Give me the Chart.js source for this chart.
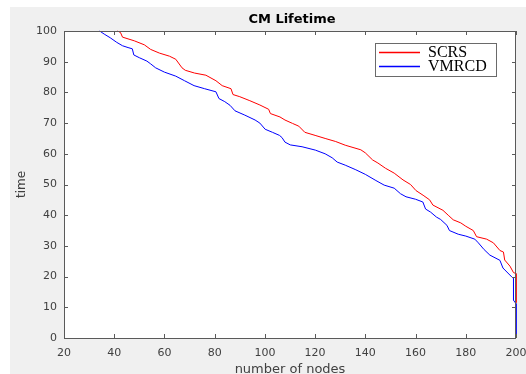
<!DOCTYPE html>
<html><head><meta charset="utf-8">
<script src="https://cdn.jsdelivr.net/npm/chart.js@4/dist/chart.umd.min.js"></script>
<style>html,body{margin:0;padding:0;background:#fff;}canvas{display:block;}</style>
</head><body>
<canvas id="c" width="526" height="374"></canvas>
<script>
const chartTitle = 'CM Lifetime';
const xTitle = 'number of nodes';
const yTitle = 'time';
const seriesNames = ['SCRS', 'VMRCD'];
const seriesColors = ['#ff0000', '#0000ff'];
const xTicks = [20, 40, 60, 80, 100, 120, 140, 160, 180, 200];
const yTicks = [0, 10, 20, 30, 40, 50, 60, 70, 80, 90, 100];

const scrsX = [41.3,42.5,43.3,48,52,54.5,58,62,64.5,67,68.3,72,76.5,80.5,83,86.5,87.3,90,94,98,101.5,102.2,106,108,111,113.5,115.9,120,124,128.2,132,138.2,140,142.9,145,148,151.5,155,158,160.2,163,165.6,166.9,170.9,173,175,178,180,183,184.3,188.3,191,193.6,195,195.5,197.6,199,200,200];
const scrsY = [100,99.5,98,96.8,95.5,94,92.8,91.8,90.8,88,87.2,86.3,85.6,83.8,82.2,81.2,79.3,78.6,77.3,75.9,74.5,73.1,72,71,69.9,69,67,66,65,64,62.8,61.3,60.3,58,57,55.3,53.7,51.5,50,48,46.5,45,43.3,41.6,40,38.5,37.5,36.4,35,33,32.2,31,28.5,28,25.4,23.4,21.3,21,11.5];

const vmrcdX = [34.2,36,38.4,41,43.3,45.5,47.2,47.8,50,53,54.5,56.5,60,64.5,68,71.8,76,80.5,81.7,84,86.1,88.1,92,96.1,98,100.1,103,105.8,106.8,108,110.1,114.8,120.1,124,126.8,128.8,132,136.2,140,144.2,147.5,151.5,154,156.2,160,162.9,164,166,168.3,170,172.5,173.5,177,180,183.6,185,187.3,189.6,193.6,194.8,198.3,199,199,200,200];
const vmrcdY = [100,99,97.8,96.3,95.2,94.6,94.2,92.2,91.3,90.2,89.3,88,86.6,85.3,83.8,82.2,81.2,80.2,78,77,75.8,74,72.6,71,70,68,67,66,65.3,63.8,62.9,62.3,61.2,60,58.7,57.3,56.3,54.8,53.3,51.3,49.8,48.8,47,46,45.2,44.3,42,41,39.4,38.6,36.7,35,33.8,33.2,32.2,31,28.8,27,25.3,22.8,19.9,19.4,12.3,11.2,0];

const toPts = (xs, ys) => xs.map((x, i) => ({x: x, y: ys[i]}));

const TICK_FONT = {family: 'DejaVu Sans', size: 11};
const TEXT_COLOR = '#404040';
const FRAME_COLOR = '#5a5a5a';

const decor = {
  id: 'decor',
  beforeDraw(chart) {
    const {ctx, chartArea: a} = chart;
    ctx.save();
    ctx.fillStyle = '#ffffff';
    ctx.fillRect(0, 0, chart.width, chart.height);
    ctx.fillStyle = '#f0f0f0';
    ctx.fillRect(10, 7, chart.width - 10, chart.height - 7);
    ctx.fillStyle = '#ffffff';
    ctx.fillRect(a.left, a.top, a.right - a.left, a.bottom - a.top);
    ctx.restore();
  },
  afterDraw(chart) {
    const {ctx, chartArea: a, scales} = chart;
    ctx.save();
    ctx.strokeStyle = FRAME_COLOR;
    ctx.lineWidth = 1;
    ctx.strokeRect(a.left + 0.5, a.top + 0.5, a.right - a.left - 1, a.bottom - a.top);
    const tl = 4;
    ctx.beginPath();
    scales.x.ticks.forEach(t => {
      const px = Math.round(scales.x.getPixelForValue(t.value)) + 0.5;
      ctx.moveTo(px, a.bottom); ctx.lineTo(px, a.bottom - tl);
      ctx.moveTo(px, a.top); ctx.lineTo(px, a.top + tl);
    });
    scales.y.ticks.forEach(t => {
      const py = Math.round(scales.y.getPixelForValue(t.value)) + 0.5;
      ctx.moveTo(a.left, py); ctx.lineTo(a.left + tl, py);
      ctx.moveTo(a.right, py); ctx.lineTo(a.right - tl, py);
    });
    ctx.stroke();
    ctx.fillStyle = '#000';
    ctx.font = 'bold 13px "DejaVu Sans"';
    ctx.textAlign = 'center';
    ctx.textBaseline = 'middle';
    ctx.fillText(chartTitle, (a.left + a.right) / 2 + 2, 20);
    const lx = 375, ly = 43, lw = 121, lh = 33;
    ctx.fillStyle = '#fff';
    ctx.fillRect(lx, ly, lw, lh);
    ctx.strokeStyle = '#6a6a6a';
    ctx.strokeRect(lx + 0.5, ly + 0.5, lw, lh);
    ctx.font = '16px "Liberation Serif"';
    ctx.textAlign = 'left';
    chart.data.datasets.forEach((ds, i) => {
      const y = ly + 9 + i * 14;
      ctx.strokeStyle = ds.borderColor;
      ctx.lineWidth = 1.5;
      ctx.beginPath();
      ctx.moveTo(lx + 4, y + 0.5); ctx.lineTo(lx + 45, y + 0.5);
      ctx.stroke();
      ctx.fillStyle = '#000';
      ctx.fillText(ds.label, lx + 53, y + 1);
    });
    ctx.restore();
  }
};

new Chart(document.getElementById('c'), {
  type: 'line',
  data: {
    datasets: [
      {label: seriesNames[0], data: toPts(scrsX, scrsY), borderColor: seriesColors[0], borderWidth: 1, pointRadius: 0, tension: 0, fill: false, clip: false},
      {label: seriesNames[1], data: toPts(vmrcdX, vmrcdY), borderColor: seriesColors[1], borderWidth: 1, pointRadius: 0, tension: 0, fill: false, clip: false}
    ]
  },
  options: {
    responsive: false,
    animation: false,
    devicePixelRatio: 1,
    layout: {padding: {left: 0, top: 31, right: 10, bottom: 0}},
    plugins: {legend: {display: false}, tooltip: {enabled: false}, title: {display: false}},
    scales: {
      x: {
        type: 'linear', min: 20, max: 200,
        afterBuildTicks: s => { s.ticks = xTicks.map(v => ({value: v})); },
        afterFit: s => { s.height = 36; s.paddingLeft = 0; s.paddingRight = 0; },
        grid: {display: false, drawTicks: false},
        border: {display: false},
        ticks: {font: TICK_FONT, color: TEXT_COLOR, padding: 9, maxRotation: 0, autoSkip: false},
        title: {display: true, text: xTitle, color: TEXT_COLOR, font: {family: 'DejaVu Sans', size: 13}, padding: {top: 0, bottom: -3}}
      },
      y: {
        type: 'linear', min: 0, max: 100,
        afterBuildTicks: s => { s.ticks = yTicks.map(v => ({value: v})); },
        afterFit: s => { s.width = 64; s.paddingTop = 0; s.paddingBottom = 0; },
        grid: {display: false, drawTicks: false},
        border: {display: false},
        ticks: {font: TICK_FONT, color: TEXT_COLOR, padding: 7, autoSkip: false},
        title: {display: true, text: yTitle, color: TEXT_COLOR, font: {family: 'DejaVu Sans', size: 12}, padding: {top: 15, bottom: 0}}
      }
    }
  },
  plugins: [decor]
});
</script>
</body></html>
